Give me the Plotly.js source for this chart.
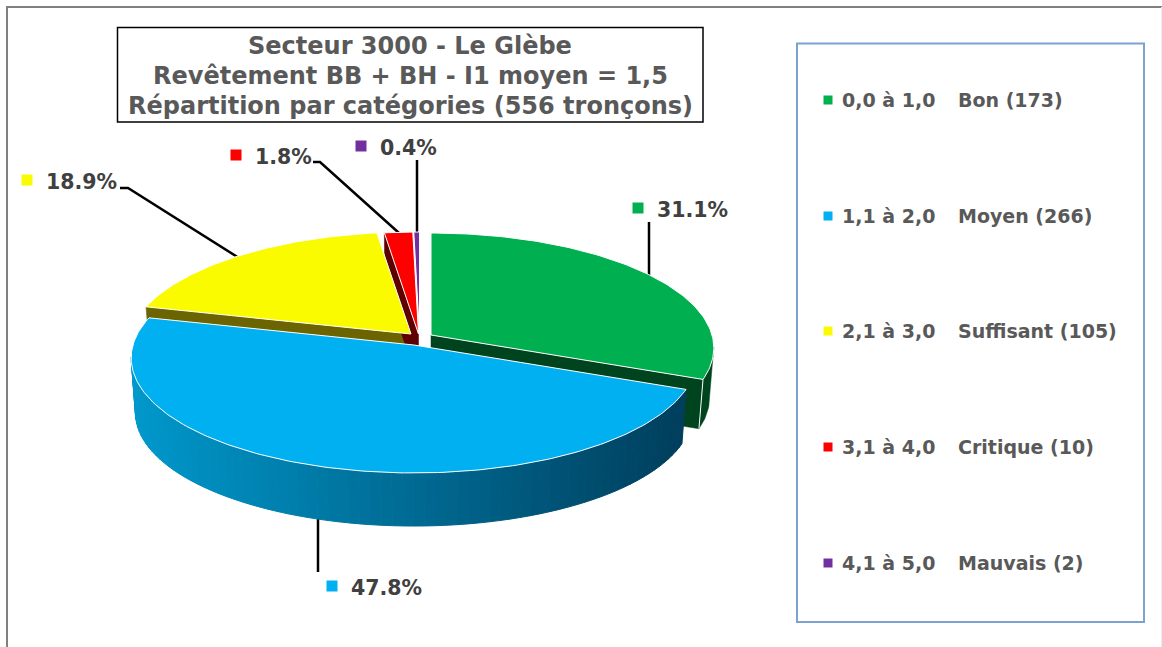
<!DOCTYPE html>
<html><head><meta charset="utf-8">
<script src="https://cdn.plot.ly/plotly-3.0.1.min.js"></script>
<style>html,body{margin:0;padding:0;background:#fff;overflow:hidden}#c{width:1162px;height:647px}</style>
</head><body><div id="c"></div>
<script>
// Data
var titleLines = ["Secteur 3000 - Le Glèbe", "Revêtement BB + BH - I1 moyen = 1,5", "Répartition par catégories (556 tronçons)"];
var ranges = ["0,0 à 1,0", "1,1 à 2,0", "2,1 à 3,0", "3,1 à 4,0", "4,1 à 5,0"];
var categories = ["Bon", "Moyen", "Suffisant", "Critique", "Mauvais"];
var counts = [173, 266, 105, 10, 2];
var percents = ["31.1%", "47.8%", "18.9%", "1.8%", "0.4%"];
var colors = ["#00B050", "#00B0F0", "#FBFB00", "#FF0000", "#7030A0"];
var darks = ["#00441F", "#004A68", "#6B6400", "#5E0000", "#3A1A55"];

// Pie projection (perspective ellipse), in the pixel-sized axis units
var CX = 431, CY = 335, R = 281, A = 113.5, C = 0.113, S = 0.985;
var shiftX = [0, -17, -20, -12.5, -11.5];
var shiftY = [0, 10, -1, -1, -1];
var depth = [50, 55, 50, 50, 50];
var total = counts.reduce(function (a, b) { return a + b; }, 0);
var starts = [], ends = [], acc = 0;
counts.forEach(function (v) { starts.push(acc / total * 360); acc += v; ends.push(acc / total * 360); });

function pt(i, deg, low) {
  var t = deg * Math.PI / 180, u = Math.sin(t), v = -Math.cos(t), d = 1 - C * v;
  var s = low ? S : 1;
  return [CX + shiftX[i] + s * R * u / d, CY + shiftY[i] + (low ? depth[i] : 0) + s * A * v / d];
}
function apex(i, low) { return [CX + shiftX[i], CY + shiftY[i] + (low ? depth[i] : 0)]; }
function arc(i, a, b, low) {
  var out = [], n = Math.max(2, Math.ceil(Math.abs(b - a)));
  for (var k = 0; k <= n; k++) out.push(pt(i, a + (b - a) * k / n, low));
  return out;
}
function poly(pts, fill, lineColor, w, name) {
  var xs = pts.map(function (p) { return p[0]; }), ys = pts.map(function (p) { return p[1]; });
  xs.push(xs[0]); ys.push(ys[0]);
  return { type: "scatter", mode: "lines", x: xs, y: ys, fill: "toself", fillcolor: fill,
    line: { color: lineColor, width: w }, hoverinfo: "skip", showlegend: false, name: name || "" };
}
function topFace(i) { return poly([apex(i, false)].concat(arc(i, starts[i], ends[i], false)), colors[i], "#FFFFFF", 1, categories[i]); }
function cutFace(i, deg) {
  var a = apex(i, false), b = pt(i, deg, false), c = pt(i, deg, true), d = apex(i, true);
  return poly([a, b, c, d], darks[i], darks[i], 0.5, categories[i] + " face");
}

var traces = [];
// back-to-front painting
traces.push(cutFace(0, ends[0]));
traces.push(poly(arc(0, 96, ends[0], false).concat(arc(0, ends[0], 96, true)), darks[0], darks[0], 0.5, "Bon paroi"));
traces.push({ type: "scatter", mode: "lines", x: [pt(0, ends[0], false)[0], pt(0, ends[0], true)[0]],
  y: [pt(0, ends[0], false)[1], pt(0, ends[0], true)[1]], line: { color: "#FFFFFF", width: 1 }, hoverinfo: "skip", showlegend: false });
traces.push(cutFace(2, starts[2]));
traces.push(cutFace(3, starts[3]));
traces.push(topFace(0));
traces.push(topFace(4));
traces.push(topFace(2));
traces.push(topFace(3));

// gradient wall of the large front slice
var wallFrom = starts[1], wallTo = 264, steps = 76;
function mix(a, b, f) { return Math.round(a + (b - a) * f); }
for (var k = 0; k < steps; k++) {
  var a0 = wallFrom + (wallTo - wallFrom) * k / steps, a1 = wallFrom + (wallTo - wallFrom) * (k + 1) / steps;
  var xm = (pt(1, a0, false)[0] + pt(1, a1, false)[0]) / 2;
  var f = Math.min(1, Math.max(0, (xm - 131) / (686 - 131)));
  var col = "rgb(" + 0 + "," + mix(152, 62, f) + "," + mix(204, 92, f) + ")";
  traces.push(poly([pt(1, a0, false), pt(1, a1, false), pt(1, a1, true), pt(1, a0, true)], col, col, 1, "Moyen paroi"));
}
traces.push(topFace(1));

// swatches: legend and data labels, drawn as square markers
var legendY = [100, 216, 331, 447, 563];
var labelX = [638, 332, 27, 236, 361];
var labelY = [208, 586, 180, 155, 146];
colors.forEach(function (c, i) {
  traces.push({ type: "scatter", mode: "markers", x: [828], y: [legendY[i]], name: categories[i],
    marker: { symbol: "square", size: 9, color: c }, hoverinfo: "skip", showlegend: false });
  traces.push({ type: "scatter", mode: "markers", x: [labelX[i]], y: [labelY[i]], name: percents[i],
    marker: { symbol: "square", size: 11, color: c }, hoverinfo: "skip", showlegend: false });
});

var FONT = "DejaVu Sans, Verdana, sans-serif";
var annotations = [];
function txt(x, y, t, size, col, anchor) {
  annotations.push({ xref: "x", yref: "y", x: x, y: y, text: "<b>" + t + "</b>", showarrow: false,
    xanchor: anchor || "left", yanchor: "middle", borderpad: 0, font: { family: FONT, size: size, color: col } });
}
[46, 76, 106].forEach(function (y, i) { txt(410, y, titleLines[i], 24, "#595959", "center"); });
colors.forEach(function (c, i) {
  txt(841, legendY[i], ranges[i], 19, "#595959");
  txt(957, legendY[i], categories[i] + " (" + counts[i] + ")", 19, "#595959");
  txt(labelX[i] + 18, labelY[i] + 1.5, percents[i], 20.5, "#404040");
});

function seg(pts, col, w) {
  return { type: "path", xref: "x", yref: "y", layer: "below",
    path: "M" + pts.map(function (p) { return p.join(","); }).join("L"), line: { color: col, width: w } };
}
var shapes = [
  seg([[7, 647], [7, 7], [1162, 7]], "#808080", 2),
  seg([[1161.5, 7], [1161.5, 647]], "#EDEDED", 1),
  seg([[649, 222], [649, 278]], "#000000", 2.5),
  seg([[417, 160], [417, 233]], "#000000", 2.5),
  seg([[313, 162], [320, 162], [399, 233]], "#000000", 2.5),
  seg([[120, 188], [128, 188], [239, 258]], "#000000", 2.5),
  seg([[318, 515], [318, 572]], "#000000", 2.5),
  { type: "rect", xref: "x", yref: "y", x0: 117.5, y0: 27.5, x1: 703, y1: 122, line: { color: "#000000", width: 1.5 }, fillcolor: "rgba(0,0,0,0)" },
  { type: "rect", xref: "x", yref: "y", x0: 797, y0: 43.5, x1: 1144, y1: 622, line: { color: "#7CA2D2", width: 2 }, fillcolor: "rgba(0,0,0,0)" }
];

Plotly.newPlot("c", traces, {
  width: 1162, height: 647, margin: { l: 0, r: 0, t: 0, b: 0, pad: 0 },
  paper_bgcolor: "#FFFFFF", plot_bgcolor: "#FFFFFF", showlegend: false,
  xaxis: { range: [0, 1162], visible: false, fixedrange: true },
  yaxis: { range: [647, 0], visible: false, fixedrange: true },
  annotations: annotations, shapes: shapes
}, { displayModeBar: false, staticPlot: true });
</script></body></html>
